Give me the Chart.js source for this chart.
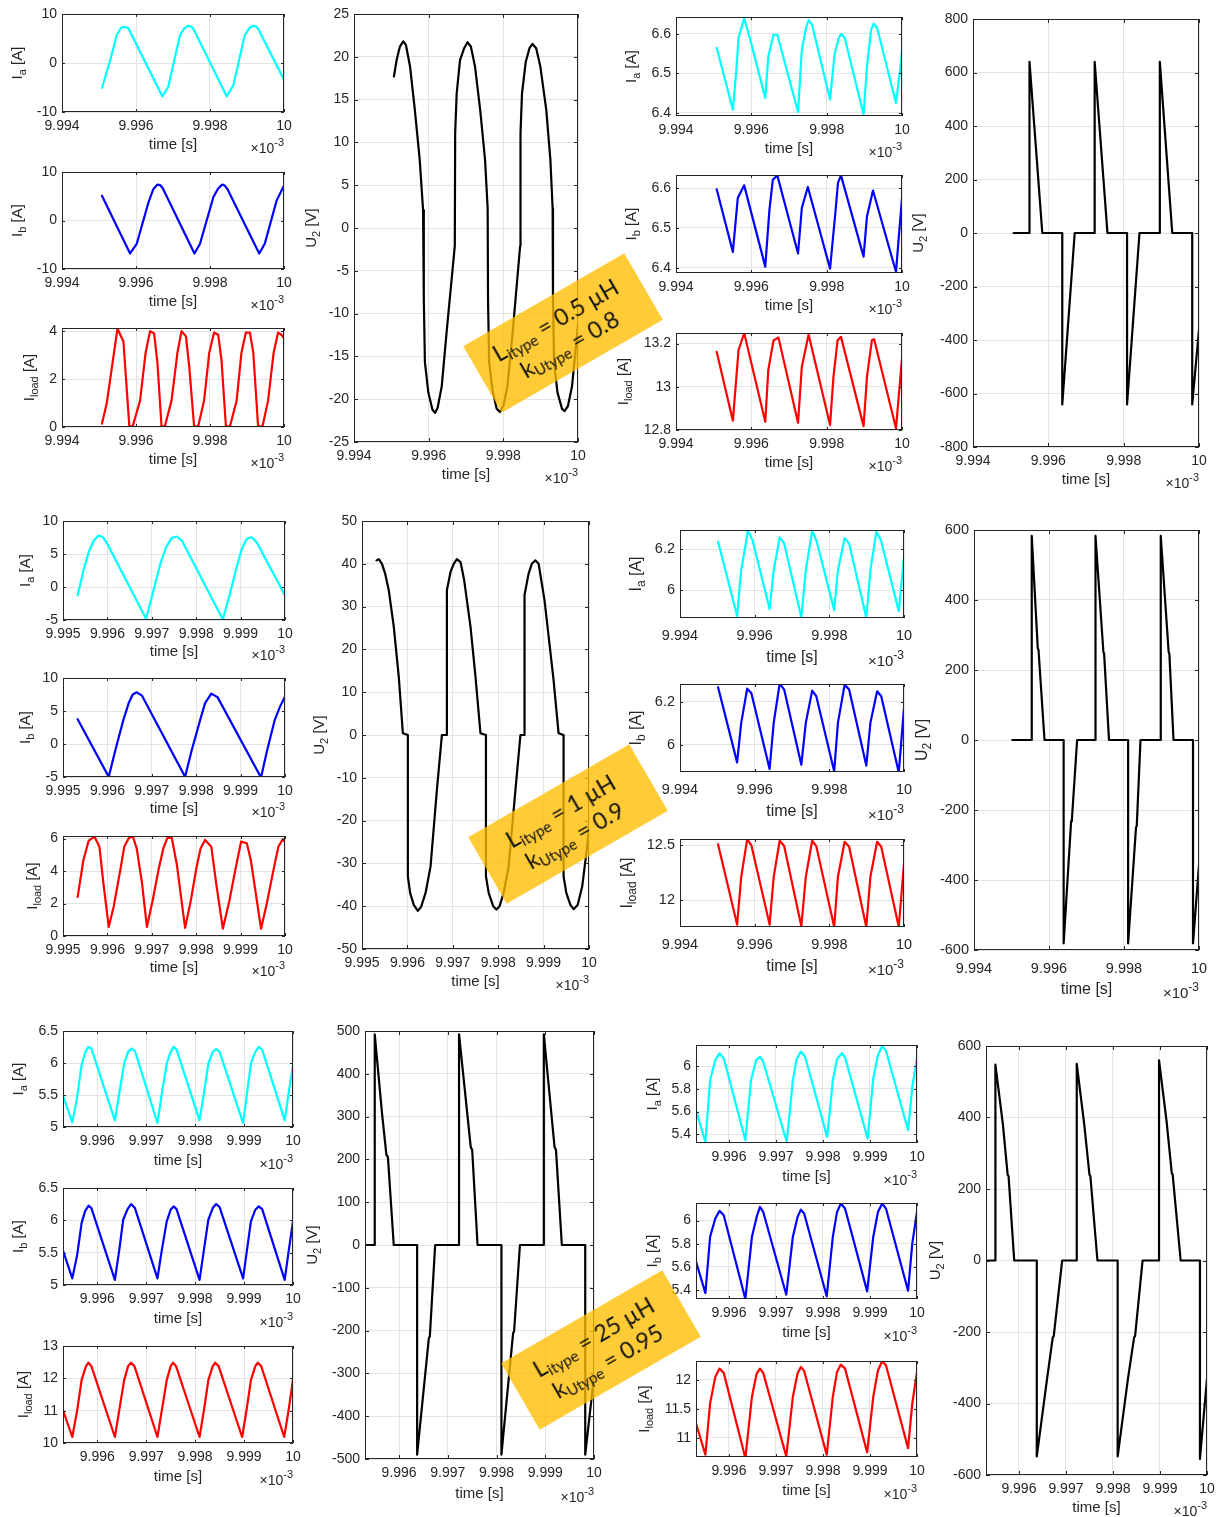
<!DOCTYPE html>
<html>
<head>
<meta charset="utf-8">
<script src="https://cdn.jsdelivr.net/npm/chart.js@4.4.1/dist/chart.umd.min.js"></script>
<style>
  html, body { margin: 0; padding: 0; background: #fff; }
  body { width: 1228px; height: 1517px; position: relative; overflow: hidden; }
  canvas { position: absolute; }
  .tag {
    position: absolute; width: 186px; height: 77px;
    transform: translate(-50%, -50%) rotate(-30deg);
    background: rgba(255, 190, 0, 0.78);
    display: flex; flex-direction: column; align-items: center; justify-content: center;
    font-family: Lato, 'Open Sans', sans-serif; font-size: 23px; line-height: 25px; color: #111;
    z-index: 10; white-space: nowrap;
  }
  .tag sub { font-size: 0.66em; vertical-align: baseline; position: relative; top: 0.32em; }
</style>
</head>
<body>
<script>
// ---------- tick values and labels ----------
const tA = [9.994, 9.996, 9.998, 10];
const tALab = ['9.994', '9.996', '9.998', '10'];
const tB = [9.995, 9.996, 9.997, 9.998, 9.999, 10];
const tBLab = ['9.995', '9.996', '9.997', '9.998', '9.999', '10'];
const tC = [9.996, 9.997, 9.998, 9.999, 10];
const tCLab = ['9.996', '9.997', '9.998', '9.999', '10'];

// ---------- case 1: L_itype = 0.5 uH, k_Utype = 0.8 ----------
const c1Ia = [[9.99508,-5.1],[9.99530,0.5],[9.99548,5.7],[9.99558,7.0],[9.99566,7.4],[9.99574,7.3],[9.99580,7.0],[9.99671,-6.8],[9.99687,-4.9],[9.99719,5.7],[9.99730,7.0],[9.99741,7.6],[9.99749,7.4],[9.99755,7.0],[9.99845,-6.8],[9.99863,-4.6],[9.99894,5.7],[9.99907,7.2],[9.99918,7.6],[9.99925,7.4],[9.99930,7.0],[10.0,-3.4]];
const c1Ib = [[9.99508,5.1],[9.99584,-6.8],[9.99602,-4.8],[9.99634,3.8],[9.99647,6.5],[9.99658,7.4],[9.99665,7.3],[9.99672,6.7],[9.99758,-6.8],[9.99773,-4.8],[9.99809,4.8],[9.99822,6.6],[9.99833,7.4],[9.99840,7.2],[9.99847,6.5],[9.99933,-6.8],[9.99948,-4.8],[9.99980,4.1],[10.0,7.2]];
const c1Il = [[9.99508,0.14],[9.99521,1.0],[9.99535,2.5],[9.99548,3.9],[9.99550,4.1],[9.99566,3.57],[9.99582,0.03],[9.99591,0.03],[9.99611,1.1],[9.99626,3.1],[9.99638,4.0],[9.99649,3.9],[9.99658,2.66],[9.99669,0.03],[9.99678,0.03],[9.99696,1.1],[9.99712,3.1],[9.99723,4.0],[9.99735,3.78],[9.99744,2.5],[9.99757,0.03],[9.99768,0.03],[9.99784,1.1],[9.99798,3.1],[9.99811,3.94],[9.99822,3.85],[9.99831,2.8],[9.99843,0.03],[9.99854,0.03],[9.99872,1.1],[9.99885,3.1],[9.99897,3.94],[9.99908,3.94],[9.99917,3.1],[9.99930,0.03],[9.99942,0.03],[9.99957,1.1],[9.99972,3.1],[9.99984,3.94],[9.99993,3.85],[10.0,3.7]];
const c1U2 = [[9.99507,17.7],[9.99514,19.6],[9.99523,21.2],[9.99532,21.8],[9.99539,21.4],[9.99550,18.9],[9.99563,13.8],[9.99576,8.0],[9.99585,2.1],[9.99587,-8.4],[9.99590,-15.7],[9.99599,-19.2],[9.99610,-21.2],[9.99617,-21.6],[9.99624,-21.0],[9.99635,-18.5],[9.99648,-12.2],[9.99670,-2.1],[9.99671,11.1],[9.99675,15.7],[9.99684,19.6],[9.99695,21.0],[9.99704,21.7],[9.99713,21.2],[9.99724,18.9],[9.99738,13.8],[9.99751,8.0],[9.99758,2.3],[9.99759,-8.4],[9.99762,-15.7],[9.99772,-19.2],[9.99782,-21.1],[9.99791,-21.5],[9.99800,-20.8],[9.99811,-18.5],[9.99825,-12.2],[9.99845,-2.1],[9.99846,11.1],[9.99850,15.7],[9.99860,19.4],[9.99870,21.0],[9.99878,21.5],[9.99888,21.0],[9.99899,18.9],[9.99915,13.8],[9.99926,8.0],[9.99932,2.3],[9.99933,-8.4],[9.99936,-15.7],[9.99945,-19.2],[9.99957,-21.1],[9.99964,-21.4],[9.99973,-20.8],[9.99984,-18.5],[10.0,-11.3]];
const c1IaT = [[9.99508,6.565],[9.99551,6.408],[9.99561,6.518],[9.99566,6.59],[9.99581,6.64],[9.99597,6.586],[9.99637,6.438],[9.99645,6.543],[9.99659,6.598],[9.99669,6.598],[9.99724,6.402],[9.99734,6.56],[9.99745,6.615],[9.99752,6.635],[9.99761,6.624],[9.99809,6.434],[9.99821,6.548],[9.99832,6.59],[9.99839,6.6],[9.99848,6.59],[9.99898,6.396],[9.99907,6.518],[9.99918,6.611],[9.99925,6.626],[9.99934,6.615],[9.99984,6.425],[9.99996,6.518],[10.0,6.56]];
const c1IbT = [[9.99508,6.597],[9.99551,6.44],[9.99564,6.575],[9.99581,6.607],[9.99637,6.403],[9.99648,6.545],[9.99657,6.621],[9.99669,6.632],[9.99724,6.436],[9.99734,6.55],[9.99750,6.603],[9.99809,6.398],[9.99823,6.537],[9.99830,6.613],[9.99838,6.632],[9.99898,6.428],[9.99907,6.529],[9.99923,6.594],[9.99984,6.39],[10.0,6.575]];
const c1IlT = [[9.99508,13.162],[9.99551,12.843],[9.99566,13.169],[9.99581,13.249],[9.99637,12.838],[9.99645,13.077],[9.99659,13.215],[9.99672,13.228],[9.99724,12.834],[9.99734,13.092],[9.99752,13.242],[9.99809,12.823],[9.99818,13.046],[9.99829,13.215],[9.99838,13.231],[9.99898,12.818],[9.99907,13.046],[9.99920,13.215],[9.99926,13.22],[9.99984,12.808],[10.0,13.131]];
const c1U2T = [[9.99508,0],[9.99550,0],[9.99550,640],[9.99584,0],[9.99637,0],[9.99637,-641],[9.99670,0],[9.99723,0],[9.99723,640],[9.99757,0],[9.99809,0],[9.99809,-641],[9.99842,0],[9.99896,0],[9.99896,640],[9.99929,0],[9.99982,0],[9.99982,-641],[10.0,-360]];

// ---------- case 2: L_itype = 1 uH, k_Utype = 0.9 ----------
const c2Ia = [[9.99533,-1.26],[9.99546,2.5],[9.99558,5.3],[9.99569,7.0],[9.99580,7.8],[9.99590,7.55],[9.99600,6.5],[9.99687,-4.8],[9.99700,-1.5],[9.99719,3.5],[9.99732,6.0],[9.99745,7.45],[9.99756,7.65],[9.99768,7.0],[9.99860,-4.93],[9.99876,-1.0],[9.99891,3.0],[9.99903,5.8],[9.99914,7.3],[9.99925,7.55],[9.99936,6.8],[10.0,-1.26]];
const c2Ib = [[9.99533,3.76],[9.99603,-4.98],[9.99618,-0.9],[9.99636,3.66],[9.99648,6.2],[9.99657,7.5],[9.99666,7.83],[9.99678,7.32],[9.99775,-4.98],[9.99790,-0.9],[9.99809,3.66],[9.99820,6.2],[9.99834,7.63],[9.99848,7.1],[9.99946,-5.08],[9.99959,-1.17],[9.99977,3.66],[9.99989,5.7],[10.0,7.2]];
const c2Il = [[9.99533,2.41],[9.99546,4.68],[9.99558,5.88],[9.99571,6.12],[9.99582,5.5],[9.99591,3.24],[9.99603,0.56],[9.99614,1.79],[9.99629,4.06],[9.99638,5.5],[9.99648,6.02],[9.99657,6.16],[9.99666,5.4],[9.99678,3.24],[9.99689,0.56],[9.99702,2.2],[9.99715,4.06],[9.99726,5.4],[9.99735,6.04],[9.99745,6.04],[9.99756,4.47],[9.99775,0.5],[9.99788,2.2],[9.99801,4.27],[9.99810,5.4],[9.99820,5.92],[9.99834,5.5],[9.99845,3.24],[9.99860,0.45],[9.99875,2.2],[9.99888,4.06],[9.99901,5.81],[9.99914,5.71],[9.99923,4.68],[9.99946,0.45],[9.99959,2.0],[9.99974,4.06],[9.99985,5.5],[9.99995,5.96],[10.0,5.81]];
const c2U2 = [[9.99532,40.8],[9.99537,41.1],[9.99544,40.0],[9.99551,37.7],[9.99559,33.8],[9.99570,25.3],[9.99581,13.6],[9.99590,0.4],[9.99601,0],[9.99601,-33.0],[9.99606,-36.9],[9.99614,-39.7],[9.99623,-41.1],[9.99630,-40.2],[9.99640,-36.9],[9.99651,-30.7],[9.99665,-12.8],[9.99676,0],[9.99687,0],[9.99687,33.8],[9.99695,38.1],[9.99702,40.0],[9.99709,41.1],[9.99717,40.4],[9.99725,36.2],[9.99739,25.3],[9.99750,13.6],[9.99761,0.4],[9.99773,0],[9.99773,-33.0],[9.99779,-36.9],[9.99789,-40.0],[9.99796,-40.8],[9.99803,-40.0],[9.99812,-36.9],[9.99823,-30.7],[9.99838,-12.8],[9.99849,0],[9.99858,0],[9.99858,32.7],[9.99867,37.7],[9.99874,40.0],[9.99882,40.8],[9.99889,40.0],[9.99902,31.5],[9.99922,12.8],[9.99933,0.4],[9.99944,0],[9.99944,-33.0],[9.99950,-36.9],[9.99959,-39.7],[9.99966,-40.7],[9.99975,-39.7],[9.99985,-35.4],[9.99996,-26.0],[10.0,-20.6]];
const c2IaT = [[9.99502,6.235],[9.99553,5.877],[9.99564,6.098],[9.99582,6.289],[9.99594,6.244],[9.99640,5.91],[9.99651,6.098],[9.99667,6.256],[9.99679,6.227],[9.99725,5.869],[9.99737,6.098],[9.99754,6.287],[9.99765,6.244],[9.99813,5.905],[9.99823,6.098],[9.99841,6.253],[9.99853,6.227],[9.99899,5.868],[9.99910,6.098],[9.99926,6.284],[9.99938,6.244],[9.99986,5.9],[10.0,6.163]];
const c2IbT = [[9.99502,6.269],[9.99553,5.917],[9.99564,6.102],[9.99580,6.262],[9.99591,6.242],[9.99640,5.886],[9.99651,6.102],[9.99667,6.286],[9.99679,6.258],[9.99725,5.906],[9.99737,6.102],[9.99754,6.253],[9.99765,6.227],[9.99813,5.875],[9.99823,6.102],[9.99841,6.281],[9.99853,6.258],[9.99899,5.902],[9.99910,6.102],[9.99928,6.25],[9.99939,6.227],[9.99986,5.87],[10.0,6.172]];
const c2IlT = [[9.99502,12.506],[9.99553,11.779],[9.99564,12.212],[9.99580,12.552],[9.99591,12.5],[9.99640,11.779],[9.99651,12.212],[9.99667,12.539],[9.99679,12.491],[9.99725,11.764],[9.99737,12.212],[9.99754,12.539],[9.99765,12.491],[9.99813,11.758],[9.99823,12.212],[9.99841,12.53],[9.99853,12.485],[9.99899,11.758],[9.99910,12.212],[9.99928,12.53],[9.99939,12.485],[9.99986,11.758],[10.0,12.333]];
const c2U2T = [[9.99502,0],[9.99554,0],[9.99554,583],[9.99570,262],[9.99572,258],[9.99588,0],[9.99639,0],[9.99639,-581],[9.99659,-232],[9.99661,-228],[9.99675,0],[9.99724,0],[9.99724,583],[9.99745,252],[9.99747,246],[9.99760,0],[9.99811,0],[9.99811,-581],[9.99832,-250],[9.99834,-246],[9.99844,0],[9.99898,0],[9.99898,583],[9.99919,252],[9.99921,246],[9.99932,0],[9.99984,0],[9.99984,-581],[10.0,-357]];

// ---------- case 3: L_itype = 25 uH, k_Utype = 0.95 ----------
const c3Ia = [[9.99530,5.486],[9.99549,5.072],[9.99558,5.424],[9.99568,5.967],[9.99575,6.159],[9.99582,6.252],[9.99588,6.226],[9.99636,5.103],[9.99645,5.528],[9.99655,5.993],[9.99663,6.174],[9.99670,6.226],[9.99677,6.19],[9.99723,5.062],[9.99732,5.528],[9.99742,5.993],[9.99750,6.174],[9.99756,6.252],[9.99762,6.21],[9.99809,5.103],[9.99818,5.528],[9.99827,5.993],[9.99836,6.174],[9.99843,6.216],[9.99850,6.174],[9.99898,5.062],[9.99906,5.528],[9.99914,5.993],[9.99923,6.174],[9.99930,6.252],[9.99937,6.21],[9.99983,5.103],[9.99991,5.528],[10.0,5.967]];
const c3Ib = [[9.99530,5.533],[9.99549,5.103],[9.99559,5.466],[9.99568,5.957],[9.99575,6.138],[9.99582,6.226],[9.99588,6.19],[9.99636,5.078],[9.99645,5.543],[9.99653,6.009],[9.99662,6.174],[9.99669,6.252],[9.99677,6.19],[9.99723,5.103],[9.99732,5.543],[9.99742,5.983],[9.99750,6.164],[9.99756,6.216],[9.99762,6.174],[9.99809,5.078],[9.99818,5.543],[9.99827,6.009],[9.99836,6.19],[9.99843,6.252],[9.99850,6.205],[9.99898,5.103],[9.99906,5.543],[9.99914,5.983],[9.99923,6.164],[9.99930,6.216],[9.99937,6.174],[9.99983,5.078],[9.99991,5.517],[10.0,5.983]];
const c3Il = [[9.99530,11.013],[9.99549,10.186],[9.99559,11.013],[9.99568,11.944],[9.99577,12.378],[9.99582,12.482],[9.99588,12.378],[9.99636,10.186],[9.99645,11.013],[9.99655,11.944],[9.99663,12.378],[9.99669,12.482],[9.99676,12.378],[9.99723,10.186],[9.99732,11.013],[9.99742,11.944],[9.99750,12.378],[9.99755,12.482],[9.99761,12.378],[9.99809,10.186],[9.99818,11.013],[9.99827,11.944],[9.99836,12.378],[9.99841,12.482],[9.99848,12.378],[9.99896,10.186],[9.99905,11.013],[9.99914,11.944],[9.99923,12.378],[9.99928,12.482],[9.99935,12.378],[9.99982,10.186],[9.99991,11.013],[10.0,11.965]];
const c3U2 = [[9.99531,0],[9.99550,0],[9.99550,492],[9.99565,307],[9.99574,210],[9.99577,206],[9.99589,0],[9.99637,0],[9.99637,-490],[9.99661,-218],[9.99663,-214],[9.99674,0],[9.99723,0],[9.99723,492],[9.99747,229],[9.99750,222],[9.99761,0],[9.99810,0],[9.99810,-490],[9.99834,-206],[9.99836,-202],[9.99848,0],[9.99897,0],[9.99897,492],[9.99919,229],[9.99922,222],[9.99934,0],[9.99982,0],[9.99982,-490],[10.0,-307]];
const c3IaT = [[9.99530,5.612],[9.99550,5.332],[9.99560,5.876],[9.99571,6.053],[9.99580,6.112],[9.99589,6.068],[9.99635,5.347],[9.99647,5.876],[9.99658,6.053],[9.99666,6.082],[9.99673,6.038],[9.99723,5.332],[9.99736,5.876],[9.99744,6.059],[9.99753,6.126],[9.99762,6.082],[9.99809,5.376],[9.99821,5.876],[9.99830,6.059],[9.99840,6.112],[9.99847,6.076],[9.99895,5.362],[9.99907,5.891],[9.99917,6.097],[9.99926,6.176],[9.99934,6.135],[9.99981,5.435],[9.99990,5.818],[10.0,6.068]];
const c3IbT = [[9.99530,5.646],[9.99550,5.374],[9.99560,5.86],[9.99571,6.017],[9.99580,6.083],[9.99589,6.046],[9.99635,5.323],[9.99649,5.86],[9.99659,6.031],[9.99666,6.117],[9.99673,6.074],[9.99722,5.36],[9.99736,5.86],[9.99746,6.031],[9.99753,6.094],[9.99760,6.06],[9.99808,5.346],[9.99821,5.86],[9.99830,6.074],[9.99838,6.146],[9.99847,6.103],[9.99894,5.389],[9.99907,5.86],[9.99917,6.074],[9.99926,6.146],[9.99934,6.103],[9.99981,5.394],[9.99990,5.803],[10.0,6.074]];
const c3IlT = [[9.99530,11.251],[9.99550,10.709],[9.99560,11.594],[9.99571,12.051],[9.99580,12.194],[9.99589,12.12],[9.99635,10.651],[9.99649,11.709],[9.99659,12.109],[9.99666,12.194],[9.99673,12.12],[9.99722,10.68],[9.99736,11.709],[9.99746,12.109],[9.99753,12.223],[9.99760,12.154],[9.99808,10.709],[9.99821,11.709],[9.99830,12.137],[9.99838,12.263],[9.99847,12.194],[9.99894,10.749],[9.99907,11.709],[9.99917,12.166],[9.99926,12.32],[9.99934,12.251],[9.99981,10.823],[9.99990,11.594],[10.0,12.137]];
const c3U2T = [[9.99530,0],[9.99550,0],[9.99550,548],[9.99566,380],[9.99576,240],[9.99578,236],[9.99590,0],[9.99638,0],[9.99638,-548],[9.99660,-330],[9.99672,-215],[9.99674,-212],[9.99692,0],[9.99723,0],[9.99723,550],[9.99739,380],[9.99750,240],[9.99752,236],[9.99767,0],[9.99810,0],[9.99810,-548],[9.99832,-330],[9.99845,-215],[9.99847,-212],[9.99863,0],[9.99898,0],[9.99898,560],[9.99914,390],[9.99925,245],[9.99927,240],[9.99944,0],[9.99985,0],[9.99985,-555],[10.0,-330]];

// ---------- drawing ----------
const FONT = "'Liberation Sans', Arial, Helvetica, sans-serif";
const INK = '#262626';

function range(a, b, s) { const out = []; for (let v = a; v <= b + 1e-9; v += s) out.push(Math.round(v * 1000) / 1000); return out; }

// axes box, inward tick marks, axis titles and the x10^-3 multiplier
const matFrame = {
  id: 'matFrame',
  afterDraw(chart, args, o) {
    const { ctx, chartArea: a } = chart;
    const xs = chart.scales.x, ys = chart.scales.y;
    ctx.save();
    ctx.strokeStyle = INK; ctx.lineWidth = 1;
    const L = Math.max(3, Math.round(Math.max(a.width, a.height) * 0.01));
    ctx.beginPath();
    xs.ticks.forEach(tk => {
      const px = Math.round(xs.getPixelForValue(tk.value)) + 0.5;
      ctx.moveTo(px, a.bottom); ctx.lineTo(px, a.bottom - L);
      ctx.moveTo(px, a.top); ctx.lineTo(px, a.top + L);
    });
    ys.ticks.forEach(tk => {
      const py = Math.round(ys.getPixelForValue(tk.value)) + 0.5;
      ctx.moveTo(a.left, py); ctx.lineTo(a.left + L, py);
      ctx.moveTo(a.right, py); ctx.lineTo(a.right - L, py);
    });
    ctx.stroke();
    ctx.strokeRect(a.left + 0.5, a.top + 0.5, a.width - 1, a.height - 1);

    ctx.fillStyle = INK;
    const fs = o.labelSize;
    // x title
    ctx.font = fs + 'px ' + FONT;
    ctx.textAlign = 'center'; ctx.textBaseline = 'middle';
    ctx.fillText('time [s]', (a.left + a.right) / 2, a.bottom + o.xTitleDy);
    // multiplier
    ctx.textAlign = 'left';
    ctx.font = (fs - 1) + 'px ' + FONT;
    const wMain = ctx.measureText('\u00d710').width;
    ctx.font = (fs - 4) + 'px ' + FONT;
    const wSup = ctx.measureText('-3').width;
    const x0 = a.right - wMain - wSup;
    const ye = a.bottom + o.xTitleDy + 4;
    ctx.font = (fs - 1) + 'px ' + FONT;
    ctx.fillText('\u00d710', x0, ye);
    ctx.font = (fs - 4) + 'px ' + FONT;
    ctx.fillText('-3', x0 + wMain, ye - 6);
    // y title with subscript
    const [main, sub, unit] = o.yTitle;
    ctx.save();
    ctx.translate(o.yTitleX, (a.top + a.bottom) / 2);
    ctx.rotate(-Math.PI / 2);
    ctx.font = fs + 'px ' + FONT; const w1 = ctx.measureText(main).width; const w3 = ctx.measureText(unit).width;
    ctx.font = (fs - 4) + 'px ' + FONT; const w2 = ctx.measureText(sub).width;
    let x = -(w1 + w2 + w3) / 2;
    ctx.textAlign = 'left';
    ctx.font = fs + 'px ' + FONT; ctx.fillText(main, x, 0); x += w1;
    ctx.font = (fs - 4) + 'px ' + FONT; ctx.fillText(sub, x, 5); x += w2;
    ctx.font = fs + 'px ' + FONT; ctx.fillText(unit, x, 0);
    ctx.restore();
    ctx.restore();
  }
};

function panel(p) {
  const [l, t, r, b] = p.box;
  const padL = 90, padT = 12, padR = 24, padB = 60;
  const W = r - l + padL + padR, H = b - t + padT + padB;
  const cv = document.createElement('canvas');
  cv.width = W; cv.height = H;
  cv.style.left = (l - padL) + 'px'; cv.style.top = (t - padT) + 'px';
  cv.style.width = W + 'px'; cv.style.height = H + 'px';
  document.body.appendChild(cv);
  const fs = p.fs || 14;
  const zeroFit = s => { s.paddingLeft = 0; s.paddingRight = 0; s.paddingTop = 0; s.paddingBottom = 0; };
  new Chart(cv, {
    type: 'scatter',
    data: { datasets: [{
      data: p.data.map(d => ({ x: d[0], y: d[1] })),
      showLine: true, borderColor: p.color, borderWidth: 2.2, pointRadius: 0,
      tension: 0, borderJoinStyle: 'round', borderCapStyle: 'round'
    }] },
    options: {
      responsive: false, animation: false, devicePixelRatio: 1,
      layout: { padding: { left: 0, top: padT, right: padR, bottom: 0 } },
      plugins: {
        legend: { display: false }, tooltip: { enabled: false },
        matFrame: { yTitle: p.yTitle, yTitleX: p.yTitleX - (l - padL), xTitleDy: p.xTitleDy || 33, labelSize: p.ls || 15 }
      },
      scales: {
        x: {
          type: 'linear', min: p.x[0], max: p.x[1],
          afterBuildTicks: s => { s.ticks = p.xt.map(v => ({ value: v })); },
          afterFit: s => { s.height = padB; zeroFit(s); },
          ticks: { callback: (v, i) => p.xl[i], font: { family: FONT, size: fs }, color: INK,
                   padding: p.xtp || 6, maxRotation: 0, autoSkip: false },
          grid: { color: '#e4e4e4', drawTicks: false, lineWidth: 1 },
          border: { display: false }
        },
        y: {
          type: 'linear', min: p.y[0], max: p.y[1],
          afterBuildTicks: s => { s.ticks = p.yt.map(v => ({ value: v })); },
          afterFit: s => { s.width = padL; zeroFit(s); },
          ticks: { callback: v => String(Math.round(v * 1000) / 1000), font: { family: FONT, size: fs }, color: INK,
                   padding: 5, autoSkip: false },
          grid: { color: '#e4e4e4', drawTicks: false, lineWidth: 1 },
          border: { display: false }
        }
      }
    },
    plugins: [matFrame]
  });
}

const CYAN = '#00ffff', BLUE = '#0000ff', RED = '#ff0000', BLACK = '#000000';
const IA = ['I', 'a', ' [A]'], IB = ['I', 'b', ' [A]'], IL = ['I', 'load', ' [A]'], U2 = ['U', '2', ' [V]'];

// case 1
panel({ box: [62, 14, 284, 112], x: [9.994, 10], xt: tA, xl: tALab, y: [-10, 10], yt: [-10, 0, 10], data: c1Ia, color: CYAN, yTitle: IA, yTitleX: 18 });
panel({ box: [62, 172, 284, 269], x: [9.994, 10], xt: tA, xl: tALab, y: [-10, 10], yt: [-10, 0, 10], data: c1Ib, color: BLUE, yTitle: IB, yTitleX: 18 });
panel({ box: [62, 328, 284, 427], x: [9.994, 10], xt: tA, xl: tALab, y: [0, 4.13], yt: [0, 2, 4], data: c1Il, color: RED, yTitle: IL, yTitleX: 30 });
panel({ box: [354, 14, 578, 442], x: [9.994, 10], xt: tA, xl: tALab, y: [-25, 25], yt: range(-25, 25, 5), data: c1U2, color: BLACK, yTitle: U2, yTitleX: 312 });
panel({ box: [676, 17, 902, 116], x: [9.994, 10], xt: tA, xl: tALab, y: [6.392, 6.643], yt: [6.4, 6.5, 6.6], data: c1IaT, color: CYAN, yTitle: IA, yTitleX: 632 });
panel({ box: [676, 175, 902, 273], x: [9.994, 10], xt: tA, xl: tALab, y: [6.387, 6.633], yt: [6.4, 6.5, 6.6], data: c1IbT, color: BLUE, yTitle: IB, yTitleX: 632 });
panel({ box: [676, 333, 902, 430], x: [9.994, 10], xt: tA, xl: tALab, y: [12.8, 13.249], yt: [12.8, 13, 13.2], data: c1IlT, color: RED, yTitle: IL, yTitleX: 624 });
panel({ box: [973, 19, 1199, 447], x: [9.994, 10], xt: tA, xl: tALab, y: [-800, 800], yt: range(-800, 800, 200), data: c1U2T, color: BLACK, yTitle: U2, yTitleX: 919 });

// case 2
panel({ box: [63, 521, 285, 620], x: [9.995, 10], xt: tB, xl: tBLab, y: [-5, 10], yt: [-5, 0, 5, 10], data: c2Ia, color: CYAN, yTitle: IA, yTitleX: 26, xTitleDy: 32 });
panel({ box: [63, 678, 285, 777], x: [9.995, 10], xt: tB, xl: tBLab, y: [-5, 10], yt: [-5, 0, 5, 10], data: c2Ib, color: BLUE, yTitle: IB, yTitleX: 26, xTitleDy: 32 });
panel({ box: [63, 836, 285, 936], x: [9.995, 10], xt: tB, xl: tBLab, y: [0, 6.16], yt: [0, 2, 4, 6], data: c2Il, color: RED, yTitle: IL, yTitleX: 33, xTitleDy: 32 });
panel({ box: [362, 521, 589, 949], x: [9.995, 10], xt: tB, xl: tBLab, y: [-50, 50], yt: range(-50, 50, 10), data: c2U2, color: BLACK, yTitle: U2, yTitleX: 320 });
panel({ box: [680, 530, 904, 618], x: [9.994, 10], xt: tA, xl: tALab, y: [5.867, 6.292], yt: [6, 6.2], data: c2IaT, color: CYAN, yTitle: IA, yTitleX: 637, fs: 14.5, ls: 16, xtp: 9, xTitleDy: 40 });
panel({ box: [680, 684, 904, 772], x: [9.994, 10], xt: tA, xl: tALab, y: [5.872, 6.284], yt: [6, 6.2], data: c2IbT, color: BLUE, yTitle: IB, yTitleX: 637, fs: 14.5, ls: 16, xtp: 9, xTitleDy: 40 });
panel({ box: [680, 839, 904, 927], x: [9.994, 10], xt: tA, xl: tALab, y: [11.757, 12.555], yt: [12, 12.5], data: c2IlT, color: RED, yTitle: IL, yTitleX: 628, fs: 14.5, ls: 16, xtp: 9, xTitleDy: 40 });
panel({ box: [974, 530, 1199, 950], x: [9.994, 10], xt: tA, xl: tALab, y: [-600, 600], yt: range(-600, 600, 200), data: c2U2T, color: BLACK, yTitle: U2, yTitleX: 923, fs: 14.5, ls: 16, xtp: 10, xTitleDy: 40 });

// case 3
panel({ box: [63, 1031, 293, 1127], x: [9.9953, 10], xt: tC, xl: tCLab, y: [5, 6.5], yt: [5, 5.5, 6, 6.5], data: c3Ia, color: CYAN, yTitle: IA, yTitleX: 19, xTitleDy: 34 });
panel({ box: [63, 1188, 293, 1285], x: [9.9953, 10], xt: tC, xl: tCLab, y: [5, 6.5], yt: [5, 5.5, 6, 6.5], data: c3Ib, color: BLUE, yTitle: IB, yTitleX: 19, xTitleDy: 34 });
panel({ box: [63, 1346, 293, 1443], x: [9.9953, 10], xt: tC, xl: tCLab, y: [10, 13], yt: [10, 11, 12, 13], data: c3Il, color: RED, yTitle: IL, yTitleX: 24, xTitleDy: 34 });
panel({ box: [365, 1031, 594, 1459], x: [9.9953, 10], xt: tC, xl: tCLab, y: [-500, 500], yt: range(-500, 500, 100), data: c3U2, color: BLACK, yTitle: U2, yTitleX: 313, xTitleDy: 35 });
panel({ box: [696, 1045, 917, 1143], x: [9.9953, 10], xt: tC, xl: tCLab, y: [5.323, 6.185], yt: [5.4, 5.6, 5.8, 6], data: c3IaT, color: CYAN, yTitle: IA, yTitleX: 653, xTitleDy: 34 });
panel({ box: [696, 1203, 917, 1299], x: [9.9953, 10], xt: tC, xl: tCLab, y: [5.323, 6.151], yt: [5.4, 5.6, 5.8, 6], data: c3IbT, color: BLUE, yTitle: IB, yTitleX: 653, xTitleDy: 34 });
panel({ box: [696, 1361, 917, 1457], x: [9.9953, 10], xt: tC, xl: tCLab, y: [10.67, 12.325], yt: [11, 11.5, 12], data: c3IlT, color: RED, yTitle: IL, yTitleX: 645, xTitleDy: 34 });
panel({ box: [986, 1046, 1207, 1475], x: [9.9953, 10], xt: tC, xl: tCLab, y: [-600, 600], yt: range(-600, 600, 200), data: c3U2T, color: BLACK, yTitle: U2, yTitleX: 936, xTitleDy: 33 });

// parameter tags
const tags = [
  { cx: 563, cy: 333, l: '0.5 \u00b5H', k: '0.8' },
  { cx: 568, cy: 824, l: '1 \u00b5H', k: '0.9' },
  { cx: 601, cy: 1350, l: '25 \u00b5H', k: '0.95' }
];
tags.forEach(g => {
  const d = document.createElement('div');
  d.className = 'tag';
  d.style.left = g.cx + 'px'; d.style.top = g.cy + 'px';
  d.innerHTML = '<div>L<sub>itype</sub> = ' + g.l + '</div><div>k<sub>Utype</sub> = ' + g.k + '</div>';
  document.body.appendChild(d);
});
</script>
</body>
</html>
